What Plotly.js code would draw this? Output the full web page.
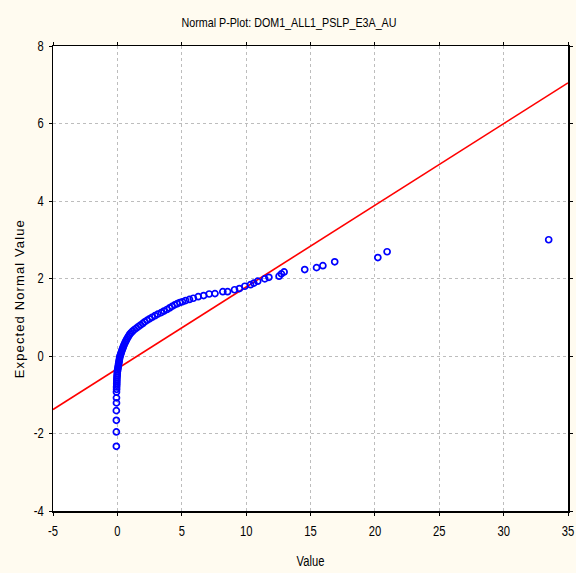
<!DOCTYPE html>
<html>
<head>
<meta charset="utf-8">
<script src="https://cdn.plot.ly/plotly-3.0.1.min.js"></script>
<style>html,body{margin:0;padding:0;background:#FFFBF0;}</style>
</head>
<body>
<div id="chart" style="width:576px;height:573px;"></div>
<script>
const obsValue = [
  -0.08, -0.08, -0.08, -0.08, -0.07, -0.07, -0.07,
  -0.06, -0.06, -0.05, -0.05, -0.04, -0.04, -0.03, -0.02, -0.01, 0.00, 0.02, 0.04, 0.06,
  0.08, 0.10, 0.12, 0.14, 0.16, 0.18, 0.21, 0.25, 0.29, 0.33, 0.37, 0.42, 0.46, 0.51,
  0.56, 0.62, 0.68, 0.74, 0.81, 0.88, 0.96, 1.06, 1.18, 1.32, 1.48, 1.64, 1.80, 1.97,
  2.12, 2.30, 2.50, 2.70, 2.92, 3.14, 3.40, 3.62, 3.85, 4.05, 4.25, 4.45, 4.65, 4.85,
  5.05, 5.30, 5.60, 5.90,
  6.28, 6.70, 7.13, 7.58, 8.19, 8.56, 9.10, 9.48, 9.90, 10.34, 10.60, 10.90, 11.45,
  11.77, 12.56, 12.74, 12.95, 14.55, 15.47, 15.96, 16.88, 20.23, 20.95, 33.50
];
const expNormal = [
  -2.33, -1.96, -1.66, -1.41, -1.21, -1.08, -0.93,
  -0.86, -0.80, -0.75, -0.70, -0.65, -0.60, -0.55, -0.50, -0.45, -0.40, -0.36, -0.32, -0.28,
  -0.24, -0.20, -0.16, -0.12, -0.08, -0.04, 0.00, 0.04, 0.08, 0.12, 0.16, 0.20, 0.24, 0.28,
  0.32, 0.36, 0.40, 0.44, 0.48, 0.52, 0.56, 0.60, 0.64, 0.68, 0.72, 0.76, 0.80, 0.84,
  0.88, 0.92, 0.96, 1.00, 1.04, 1.08, 1.12, 1.16, 1.20, 1.24, 1.28, 1.32, 1.35, 1.38,
  1.40, 1.43, 1.46, 1.49,
  1.53, 1.56, 1.60, 1.61, 1.66, 1.66, 1.71, 1.74, 1.80, 1.84, 1.88, 1.93, 1.99,
  2.03, 2.06, 2.12, 2.17, 2.23, 2.28, 2.33, 2.43, 2.54, 2.69, 3.00
];
// Reference normal line endpoints
const lineX = [-5, 35];
const lineY = [-1.38, 7.05];
const xTicks = [-5, 0, 5, 10, 15, 20, 25, 30, 35];
const yTicks = [-4, -2, 0, 2, 4, 6, 8];

const sans = '"Liberation Sans", Arial, sans-serif';

const traces = [
  {
    x: lineX, y: lineY, type: 'scatter', mode: 'lines',
    line: {color: '#FF0000', width: 1.6}, hoverinfo: 'skip', showlegend: false
  },
  {
    x: obsValue, y: expNormal, type: 'scatter', mode: 'markers',
    marker: {symbol: 'circle-open', size: 6, color: '#0000FF', line: {color: '#0000FF', width: 1.7}},
    showlegend: false
  }
];

const axisCommon = {
  showline: true, linecolor: '#000000', linewidth: 1.5, mirror: 'ticks',
  ticks: 'outside', ticklen: 3, tickcolor: '#000000', tickwidth: 1,
  showgrid: true, gridcolor: '#BDBDBD', gridwidth: 1, griddash: '3px,3px',
  zeroline: false, tickfont: {family: sans, size: 14, color: '#000000'}
};

const layout = {
  width: 576, height: 573,
  paper_bgcolor: '#FFFBF0', plot_bgcolor: '#FFFFFF',
  margin: {l: 53, r: 8, t: 46, b: 62},
  title: {
    text: 'Normal P-Plot: DOM1_ALL1_PSLP_E3A_AU',
    font: {family: sans, size: 13, color: '#000000'},
    xref: 'container', x: 289 / 576, xanchor: 'center',
    yref: 'container', y: 1 - 22 / 573, yanchor: 'middle'
  },
  xaxis: Object.assign({}, axisCommon, {
    range: [-5, 35], tickvals: xTicks, ticktext: xTicks.map(String),
    ticklabelstandoff: 4,
    title: {text: 'Value', font: {family: sans, size: 14, color: '#000000'}, standoff: 18}
  }),
  yaxis: Object.assign({}, axisCommon, {
    range: [-4, 8], tickvals: yTicks, ticktext: yTicks.map(String),
    ticklabelstandoff: 2
  }),
  annotations: [{
    text: 'Expected Normal Value', textangle: -90, showarrow: false,
    xref: 'paper', x: 0, xanchor: 'center', xshift: -34,
    yref: 'paper', y: 1 - (299 - 46) / (511 - 46), yanchor: 'middle',
    font: {family: sans, size: 13, color: '#000000'}
  }]
};

function condense(sel, factor, fixedLen, adjust) {
  document.querySelectorAll(sel).forEach(function (t) {
    const len = t.getComputedTextLength();
    if (!len) return;
    t.setAttribute('textLength', fixedLen ? fixedLen : (len * factor).toFixed(1));
    t.setAttribute('lengthAdjust', adjust || 'spacingAndGlyphs');
  });
}

Plotly.newPlot('chart', traces, layout, {displayModeBar: false, staticPlot: true}).then(function () {
  condense('.gtitle', 0, 215);
  condense('.xtick text, .ytick text', 0.8);
  condense('.xtitle', 0.8);
  condense('.annotation-text', 0, 158, 'spacing');
});
</script>
</body>
</html>
